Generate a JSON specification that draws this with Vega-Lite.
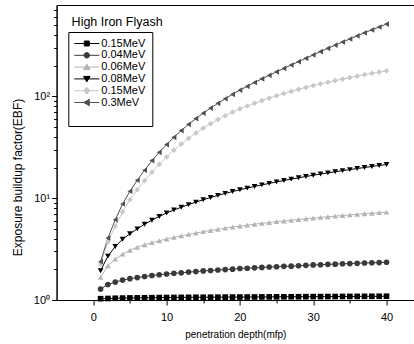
{
"$schema": "https://vega.github.io/schema/vega-lite/v6.json",
"width": 357.4,
"height": 295,
"autosize": "none",
"padding": {"left": 56.6, "top": 5, "right": 0, "bottom": 44},
"background": "white",
"title": {"text": "High Iron Flyash", "anchor": "start", "frame": "group", "offset": -24, "dx": 15, "fontSize": 12.5, "fontWeight": "normal", "font": "Liberation Sans", "color": "#000"},
"config": {
  "view": {"stroke": "#000", "strokeWidth": 1},
  "font": "Liberation Sans",
  "axis": {"grid": false, "domainColor": "#000", "tickColor": "#000", "labelColor": "#000", "titleColor": "#000", "labelFont": "Liberation Sans", "titleFont": "Liberation Sans", "labelFontSize": 11, "titleFontSize": 10, "titleFontWeight": "normal", "domainWidth": 1, "tickWidth": 1, "labelFlush": false, "labelOverlap": false},
  "legend": {"orient": "none", "legendX": 11.7, "legendY": 27, "strokeColor": "#000", "padding": 6, "rowPadding": -0.2, "labelFontSize": 11, "labelFont": "Liberation Sans", "labelColor": "#000", "symbolSize": 100, "symbolOffset": 7, "labelOffset": 9, "symbolStrokeWidth": 1, "symbolOpacity": 1}
},
"data": {"values": [
{"x":1,"s":"s1","y":1.03},{"x":2,"s":"s1","y":1.035},{"x":3,"s":"s1","y":1.04},{"x":4,"s":"s1","y":1.045},{"x":5,"s":"s1","y":1.048},{"x":6,"s":"s1","y":1.05},{"x":7,"s":"s1","y":1.052},{"x":8,"s":"s1","y":1.054},{"x":9,"s":"s1","y":1.056},{"x":10,"s":"s1","y":1.058},
{"x":11,"s":"s1","y":1.06},{"x":12,"s":"s1","y":1.061},{"x":13,"s":"s1","y":1.062},{"x":14,"s":"s1","y":1.063},{"x":15,"s":"s1","y":1.064},{"x":16,"s":"s1","y":1.065},{"x":17,"s":"s1","y":1.066},{"x":18,"s":"s1","y":1.067},{"x":19,"s":"s1","y":1.068},{"x":20,"s":"s1","y":1.069},
{"x":21,"s":"s1","y":1.07},{"x":22,"s":"s1","y":1.071},{"x":23,"s":"s1","y":1.072},{"x":24,"s":"s1","y":1.073},{"x":25,"s":"s1","y":1.074},{"x":26,"s":"s1","y":1.075},{"x":27,"s":"s1","y":1.076},{"x":28,"s":"s1","y":1.077},{"x":29,"s":"s1","y":1.078},{"x":30,"s":"s1","y":1.079},
{"x":31,"s":"s1","y":1.08},{"x":32,"s":"s1","y":1.081},{"x":33,"s":"s1","y":1.082},{"x":34,"s":"s1","y":1.083},{"x":35,"s":"s1","y":1.084},{"x":36,"s":"s1","y":1.085},{"x":37,"s":"s1","y":1.086},{"x":38,"s":"s1","y":1.087},{"x":39,"s":"s1","y":1.088},{"x":40,"s":"s1","y":1.089},
{"x":1,"s":"s2","y":1.28},{"x":2,"s":"s2","y":1.42},{"x":3,"s":"s2","y":1.5},{"x":4,"s":"s2","y":1.57},{"x":5,"s":"s2","y":1.62},{"x":6,"s":"s2","y":1.66},{"x":7,"s":"s2","y":1.7},{"x":8,"s":"s2","y":1.74},{"x":9,"s":"s2","y":1.77},{"x":10,"s":"s2","y":1.8},
{"x":11,"s":"s2","y":1.83},{"x":12,"s":"s2","y":1.85},{"x":13,"s":"s2","y":1.88},{"x":14,"s":"s2","y":1.9},{"x":15,"s":"s2","y":1.93},{"x":16,"s":"s2","y":1.95},{"x":17,"s":"s2","y":1.97},{"x":18,"s":"s2","y":1.99},{"x":19,"s":"s2","y":2.01},{"x":20,"s":"s2","y":2.04},
{"x":21,"s":"s2","y":2.05},{"x":22,"s":"s2","y":2.07},{"x":23,"s":"s2","y":2.09},{"x":24,"s":"s2","y":2.11},{"x":25,"s":"s2","y":2.12},{"x":26,"s":"s2","y":2.14},{"x":27,"s":"s2","y":2.15},{"x":28,"s":"s2","y":2.17},{"x":29,"s":"s2","y":2.19},{"x":30,"s":"s2","y":2.21},
{"x":31,"s":"s2","y":2.22},{"x":32,"s":"s2","y":2.24},{"x":33,"s":"s2","y":2.25},{"x":34,"s":"s2","y":2.27},{"x":35,"s":"s2","y":2.28},{"x":36,"s":"s2","y":2.29},{"x":37,"s":"s2","y":2.31},{"x":38,"s":"s2","y":2.32},{"x":39,"s":"s2","y":2.33},{"x":40,"s":"s2","y":2.35},
{"x":1,"s":"s3","y":1.67},{"x":2,"s":"s3","y":2.17},{"x":3,"s":"s3","y":2.52},{"x":4,"s":"s3","y":2.82},{"x":5,"s":"s3","y":3.08},{"x":6,"s":"s3","y":3.3},{"x":7,"s":"s3","y":3.49},{"x":8,"s":"s3","y":3.66},{"x":9,"s":"s3","y":3.82},{"x":10,"s":"s3","y":3.97},
{"x":11,"s":"s3","y":4.12},{"x":12,"s":"s3","y":4.27},{"x":13,"s":"s3","y":4.41},{"x":14,"s":"s3","y":4.55},{"x":15,"s":"s3","y":4.69},{"x":16,"s":"s3","y":4.82},{"x":17,"s":"s3","y":4.95},{"x":18,"s":"s3","y":5.08},{"x":19,"s":"s3","y":5.21},{"x":20,"s":"s3","y":5.33},
{"x":21,"s":"s3","y":5.44},{"x":22,"s":"s3","y":5.55},{"x":23,"s":"s3","y":5.66},{"x":24,"s":"s3","y":5.77},{"x":25,"s":"s3","y":5.88},{"x":26,"s":"s3","y":5.98},{"x":27,"s":"s3","y":6.08},{"x":28,"s":"s3","y":6.18},{"x":29,"s":"s3","y":6.28},{"x":30,"s":"s3","y":6.38},
{"x":31,"s":"s3","y":6.48},{"x":32,"s":"s3","y":6.58},{"x":33,"s":"s3","y":6.67},{"x":34,"s":"s3","y":6.76},{"x":35,"s":"s3","y":6.85},{"x":36,"s":"s3","y":6.94},{"x":37,"s":"s3","y":7.03},{"x":38,"s":"s3","y":7.12},{"x":39,"s":"s3","y":7.21},{"x":40,"s":"s3","y":7.3},
{"x":1,"s":"s4","y":1.94},{"x":2,"s":"s4","y":2.7},{"x":3,"s":"s4","y":3.35},{"x":4,"s":"s4","y":3.95},{"x":5,"s":"s4","y":4.47},{"x":6,"s":"s4","y":5.0},{"x":7,"s":"s4","y":5.55},{"x":8,"s":"s4","y":6.08},{"x":9,"s":"s4","y":6.62},{"x":10,"s":"s4","y":7.15},
{"x":11,"s":"s4","y":7.65},{"x":12,"s":"s4","y":8.15},{"x":13,"s":"s4","y":8.65},{"x":14,"s":"s4","y":9.15},{"x":15,"s":"s4","y":9.65},{"x":16,"s":"s4","y":10.15},{"x":17,"s":"s4","y":10.65},{"x":18,"s":"s4","y":11.15},{"x":19,"s":"s4","y":11.62},{"x":20,"s":"s4","y":12.1},
{"x":21,"s":"s4","y":12.57},{"x":22,"s":"s4","y":13.04},{"x":23,"s":"s4","y":13.51},{"x":24,"s":"s4","y":13.98},{"x":25,"s":"s4","y":14.45},{"x":26,"s":"s4","y":14.92},{"x":27,"s":"s4","y":15.39},{"x":28,"s":"s4","y":15.86},{"x":29,"s":"s4","y":16.33},{"x":30,"s":"s4","y":16.8},
{"x":31,"s":"s4","y":17.26},{"x":32,"s":"s4","y":17.72},{"x":33,"s":"s4","y":18.18},{"x":34,"s":"s4","y":18.64},{"x":35,"s":"s4","y":19.1},{"x":36,"s":"s4","y":19.56},{"x":37,"s":"s4","y":20.02},{"x":38,"s":"s4","y":20.48},{"x":39,"s":"s4","y":20.94},{"x":40,"s":"s4","y":21.4},
{"x":1,"s":"s5","y":2.26},{"x":2,"s":"s5","y":3.72},{"x":3,"s":"s5","y":5.31},{"x":4,"s":"s5","y":7.33},{"x":5,"s":"s5","y":9.66},{"x":6,"s":"s5","y":12.1},{"x":7,"s":"s5","y":14.9},{"x":8,"s":"s5","y":18.0},{"x":9,"s":"s5","y":21.5},{"x":10,"s":"s5","y":25.4},
{"x":11,"s":"s5","y":29.6},{"x":12,"s":"s5","y":34.0},{"x":13,"s":"s5","y":38.7},{"x":14,"s":"s5","y":43.7},{"x":15,"s":"s5","y":48.6},{"x":16,"s":"s5","y":53.8},{"x":17,"s":"s5","y":59.2},{"x":18,"s":"s5","y":64.6},{"x":19,"s":"s5","y":70.0},{"x":20,"s":"s5","y":75.3},
{"x":21,"s":"s5","y":80.5},{"x":22,"s":"s5","y":85.7},{"x":23,"s":"s5","y":91.0},{"x":24,"s":"s5","y":96.2},{"x":25,"s":"s5","y":101.4},{"x":26,"s":"s5","y":106.7},{"x":27,"s":"s5","y":111.9},{"x":28,"s":"s5","y":117.2},{"x":29,"s":"s5","y":122.5},{"x":30,"s":"s5","y":127.6},
{"x":31,"s":"s5","y":132.7},{"x":32,"s":"s5","y":137.7},{"x":33,"s":"s5","y":142.9},{"x":34,"s":"s5","y":147.9},{"x":35,"s":"s5","y":153.1},{"x":36,"s":"s5","y":158.1},{"x":37,"s":"s5","y":163.3},{"x":38,"s":"s5","y":168.3},{"x":39,"s":"s5","y":173.4},{"x":40,"s":"s5","y":178.2},
{"x":1,"s":"s6","y":2.38},{"x":2,"s":"s6","y":4.06},{"x":3,"s":"s6","y":6.14},{"x":4,"s":"s6","y":8.77},{"x":5,"s":"s6","y":11.7},{"x":6,"s":"s6","y":15.0},{"x":7,"s":"s6","y":18.8},{"x":8,"s":"s6","y":23.4},{"x":9,"s":"s6","y":28.2},{"x":10,"s":"s6","y":33.6},
{"x":11,"s":"s6","y":39.6},{"x":12,"s":"s6","y":46.1},{"x":13,"s":"s6","y":53.1},{"x":14,"s":"s6","y":60.5},{"x":15,"s":"s6","y":68.4},{"x":16,"s":"s6","y":76.7},{"x":17,"s":"s6","y":85.5},{"x":18,"s":"s6","y":94.8},{"x":19,"s":"s6","y":104.7},{"x":20,"s":"s6","y":115.1},
{"x":21,"s":"s6","y":125.6},{"x":22,"s":"s6","y":136.8},{"x":23,"s":"s6","y":148.6},{"x":24,"s":"s6","y":161.1},{"x":25,"s":"s6","y":174.2},{"x":26,"s":"s6","y":188.4},{"x":27,"s":"s6","y":203.2},{"x":28,"s":"s6","y":219.3},{"x":29,"s":"s6","y":236.6},{"x":30,"s":"s6","y":255.3},
{"x":31,"s":"s6","y":275.4},{"x":32,"s":"s6","y":296.5},{"x":33,"s":"s6","y":318.4},{"x":34,"s":"s6","y":342.0},{"x":35,"s":"s6","y":366.4},{"x":36,"s":"s6","y":392.6},{"x":37,"s":"s6","y":420.7},{"x":38,"s":"s6","y":449.8},{"x":39,"s":"s6","y":480.8},{"x":40,"s":"s6","y":512.9}
]},
"encoding": {
  "x": {"field": "x", "type": "quantitative", "title": "penetration depth(mfp)", "scale": {"domain": [-5, 43.75], "nice": false, "zero": false},
    "axis": {"values": [0,5,10,15,20,25,30,35,40], "labelExpr": "datum.value % 10 == 0 ? datum.label : ''", "tickSize": {"condition": {"test": "datum.value % 10 == 0", "value": 5}, "value": 3}, "labelPadding": 6, "titlePadding": 7}},
  "y": {"field": "y", "type": "quantitative", "title": "Exposure buildup factor(EBF)", "scale": {"type": "log", "domain": [1, 790], "nice": false},
    "axis": {"values": [1,2,3,4,5,6,7,8,9,10,20,30,40,50,60,70,80,90,100,200,300,400,500,600,700], "labelExpr": "datum.value == 1 ? '10⁰' : datum.value == 10 ? '10¹' : datum.value == 100 ? '10²' : ''", "tickSize": {"condition": {"test": "datum.value == 1 || datum.value == 10 || datum.value == 100", "value": 5}, "value": 3}, "labelPadding": 2, "titleX": -32, "titleY": 172, "titleFontSize": 12, "titleColor": "#000"}}
},
"layer": [
  {"mark": {"type": "line", "strokeWidth": 1},
   "encoding": {"color": {"field": "s", "type": "nominal", "title": null, "scale": {"domain": ["s1","s2","s3","s4","s5","s6","s7"], "range": ["#000000","#3a3a3a","#b4b4b4","#000000","#c8c8c8","#505050","#ffffff"]},
     "legend": {"title": null,
       "labelExpr": "datum.value == 's1' ? '0.15MeV' : datum.value == 's2' ? '0.04MeV' : datum.value == 's3' ? '0.06MeV' : datum.value == 's4' ? '0.08MeV' : datum.value == 's5' ? '0.15MeV' : datum.value == 's6' ? '0.3MeV' : ' '",
       "symbolType": {"expr": "datum.value == 's1' ? 'M-2.5,0H2.5M-0.5,-0.5H0.5V0.5H-0.5Z' : datum.value == 's2' ? 'M-2.5,0H2.5M0.55,0A0.55,0.55,0,1,1,-0.55,0A0.55,0.55,0,1,1,0.55,0Z' : datum.value == 's3' ? 'M-2.5,0H2.5M0,-0.6L0.65,0.5L-0.65,0.5Z' : datum.value == 's4' ? 'M-2.5,0H2.5M0,0.6L0.65,-0.5L-0.65,-0.5Z' : datum.value == 's5' ? 'M-2.5,0H2.5M0,-0.7L0.6,0L0,0.7L-0.6,0Z' : datum.value == 's6' ? 'M-2.5,0H2.5M-0.6,0L0.5,-0.65L0.5,0.65Z' : 'M0,0'"}}}}},
  {"mark": {"type": "point", "filled": true, "opacity": 1, "strokeWidth": 0, "size": 32},
   "encoding": {
     "color": {"field": "s", "type": "nominal", "title": null, "scale": {"domain": ["s1","s2","s3","s4","s5","s6","s7"], "range": ["#000000","#3a3a3a","#b4b4b4","#000000","#c8c8c8","#505050","#ffffff"]},
       "legend": {"title": null,
         "labelExpr": "datum.value == 's1' ? '0.15MeV' : datum.value == 's2' ? '0.04MeV' : datum.value == 's3' ? '0.06MeV' : datum.value == 's4' ? '0.08MeV' : datum.value == 's5' ? '0.15MeV' : datum.value == 's6' ? '0.3MeV' : ' '",
         "symbolType": {"expr": "datum.value == 's1' ? 'M-2.5,0H2.5M-0.5,-0.5H0.5V0.5H-0.5Z' : datum.value == 's2' ? 'M-2.5,0H2.5M0.55,0A0.55,0.55,0,1,1,-0.55,0A0.55,0.55,0,1,1,0.55,0Z' : datum.value == 's3' ? 'M-2.5,0H2.5M0,-0.6L0.65,0.5L-0.65,0.5Z' : datum.value == 's4' ? 'M-2.5,0H2.5M0,0.6L0.65,-0.5L-0.65,-0.5Z' : datum.value == 's5' ? 'M-2.5,0H2.5M0,-0.7L0.6,0L0,0.7L-0.6,0Z' : datum.value == 's6' ? 'M-2.5,0H2.5M-0.6,0L0.5,-0.65L0.5,0.65Z' : 'M0,0'"}}},
     "shape": {"field": "s", "type": "nominal", "scale": {"domain": ["s1","s2","s3","s4","s5","s6"], "range": ["square","circle","triangle-up","triangle-down","diamond","triangle-left"]}, "legend": null}
   }}
]
}
